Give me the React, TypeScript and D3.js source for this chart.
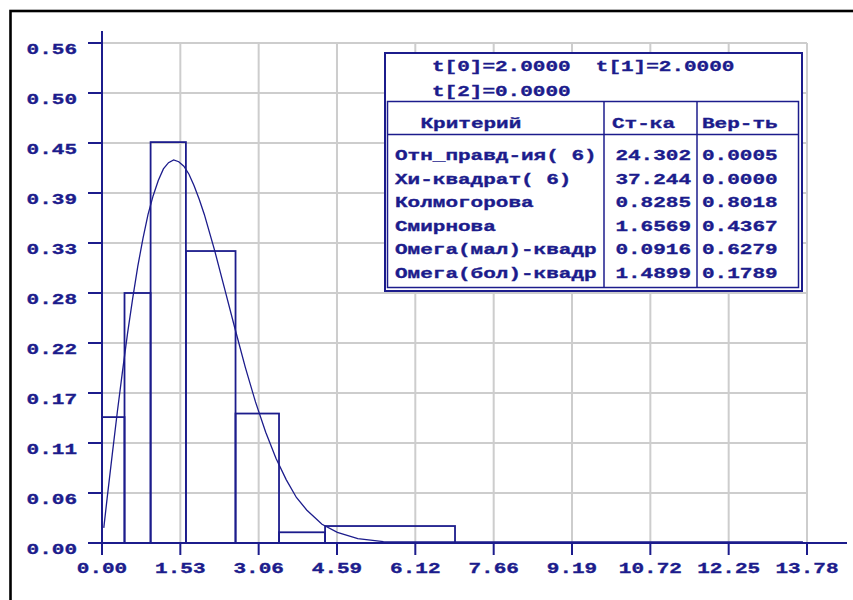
import React from "react";
import * as d3 from "d3";

// Histogram bin edges and densities
const binEdges = [0, 0.44, 0.95, 1.64, 2.61, 3.46, 4.36, 6.9];
const binDensity = [0.141, 0.28, 0.449, 0.327, 0.145, 0.012, 0.019];

// Fitted density curve points
const curveX = [
  0.035, 0.1, 0.2, 0.3, 0.4, 0.5, 0.6, 0.7, 0.8, 0.9, 1.0, 1.1, 1.2, 1.3, 1.4,
  1.5, 1.6, 1.7, 1.8, 1.9, 2.0, 2.2, 2.4, 2.6, 2.8, 3.0, 3.2, 3.4, 3.6, 3.8,
  4.0, 4.3, 4.6, 5.0, 5.5, 6.0, 13.7,
];
const curveY = [
  0.017, 0.05, 0.099, 0.147, 0.192, 0.235, 0.274, 0.31, 0.341, 0.368, 0.389,
  0.406, 0.419, 0.426, 0.429, 0.427, 0.422, 0.413, 0.4, 0.385, 0.368, 0.328,
  0.284, 0.24, 0.197, 0.158, 0.124, 0.095, 0.071, 0.051, 0.037, 0.021, 0.012,
  0.0048, 0.0015, 0.0011, 0.0011,
];

// Axis ticks
const xTickValues = [0, 1.531, 3.062, 4.593, 6.124, 7.656, 9.187, 10.718, 12.249, 13.78];
const xTickLabels = ["0.00", "1.53", "3.06", "4.59", "6.12", "7.66", "9.19", "10.72", "12.25", "13.78"];
const yTickValues = [0, 0.056, 0.112, 0.168, 0.224, 0.28, 0.336, 0.392, 0.448, 0.504, 0.56];
const yTickLabels = ["0.00", "0.06", "0.11", "0.17", "0.22", "0.28", "0.33", "0.39", "0.45", "0.50", "0.56"];

// Parameters and goodness-of-fit table
const paramLines = ["t[0]=2.0000  t[1]=2.0000", "t[2]=0.0000"];
const tableHeader = ["Критерий", "Ст-ка", "Вер-ть"];
const criteria = [
  "Отн_правд-ия( 6)",
  "Хи-квадрат( 6)",
  "Колмогорова",
  "Смирнова",
  "Омега(мал)-квадр",
  "Омега(бол)-квадр",
];
const statistics = ["24.302", "37.244", "0.8285", "1.6569", "0.0916", "1.4899"];
const probabilities = ["0.0005", "0.0000", "0.8018", "0.4367", "0.6279", "0.1789"];

const NAVY = "#1c1c8c";
const GRID = "#cdcdcd";
const CHAR_W = 12.6;

type TxtProps = { x: number; y: number; text: string; anchor?: "start" | "middle" | "end" };

// Wide bold monospace text: every character occupies CHAR_W pixels
function Mono({ x, y, text, anchor = "start" }: TxtProps) {
  const len = text.length * CHAR_W;
  const x0 = anchor === "start" ? x : anchor === "middle" ? x - len / 2 : x - len;
  return (
    <text
      x={x0}
      y={y}
      textLength={len}
      lengthAdjust="spacingAndGlyphs"
      fontFamily="'Liberation Mono', monospace"
      fontWeight="bold"
      fontSize={15}
      fill={NAVY}
      stroke={NAVY}
      strokeWidth={0.35}
      style={{ whiteSpace: "pre" }}
      xmlSpace="preserve"
    >
      {text}
    </text>
  );
}

export default function App() {
  const W = 853;
  const H = 600;
  const x = d3.scaleLinear().domain([0, 13.78]).range([102, 807]);
  const y = d3.scaleLinear().domain([0, 0.56]).range([543, 43]);

  const line = d3
    .line<number>()
    .x((_, i) => x(curveX[i]))
    .y((d) => y(d))
    .curve(d3.curveLinear);

  const x0 = x(0);
  const y0 = y(0);

  // table geometry
  const tb = { l: 385, t: 53, r: 802, b: 291 };
  const ti = { l: 387.5, t: 101.5, r: 798.5, b: 287.5 };
  const col1 = 604;
  const col2 = 697;
  const headLine = 134.5;
  const rowBase0 = 160;
  const rowStep = 23.6;

  return (
    <svg
      width={W}
      height={H}
      viewBox={`0 0 ${W} ${H}`}
      style={{ position: "absolute", left: 0, top: 0, background: "#fff" }}
    >
      <rect x={0} y={0} width={W} height={H} fill="#fff" />
      {/* frame */}
      <rect x={10.5} y={11} width={900} height={700} fill="none" stroke="#000" strokeWidth={2.6} />

      {/* grid */}
      <g stroke={GRID} strokeWidth={2}>
        {xTickValues.slice(1).map((v, i) => (
          <line key={"gx" + i} x1={x(v)} x2={x(v)} y1={y(0.56)} y2={y0} />
        ))}
        {yTickValues.slice(1).map((v, i) => (
          <line key={"gy" + i} x1={x0} x2={x(13.78)} y1={y(v)} y2={y(v)} />
        ))}
      </g>

      {/* histogram */}
      <g fill="none" stroke={NAVY} strokeWidth={1.8}>
        {binDensity.map((d, i) => (
          <rect
            key={"b" + i}
            x={x(binEdges[i])}
            y={y(d)}
            width={x(binEdges[i + 1]) - x(binEdges[i])}
            height={y0 - y(d)}
          />
        ))}
      </g>

      {/* density curve */}
      <path d={line(curveY) || ""} fill="none" stroke={NAVY} strokeWidth={1.3} />

      {/* axes */}
      <g stroke={NAVY} strokeWidth={2}>
        <line x1={x0} x2={x0} y1={31} y2={y0} />
        <line x1={x0} x2={847} y1={y0} y2={y0} />
        {yTickValues.map((v, i) => (
          <line key={"ty" + i} x1={88} x2={x0} y1={y(v)} y2={y(v)} />
        ))}
        {xTickValues.map((v, i) => (
          <line key={"tx" + i} x1={x(v)} x2={x(v)} y1={y0} y2={y0 + 12} />
        ))}
      </g>
      {yTickValues.map((v, i) => (
        <Mono key={"ly" + i} x={77} y={y(v) + 11} text={yTickLabels[i]} anchor="end" />
      ))}
      {xTickValues.map((v, i) => (
        <Mono key={"lx" + i} x={x(v)} y={y0 + 29.5} text={xTickLabels[i]} anchor="middle" />
      ))}

      {/* statistics table */}
      <rect x={tb.l} y={tb.t} width={tb.r - tb.l} height={tb.b - tb.t} fill="#fff" stroke={NAVY} strokeWidth={2} />
      <rect x={ti.l} y={ti.t} width={ti.r - ti.l} height={ti.b - ti.t} fill="none" stroke={NAVY} strokeWidth={1.5} />
      <g stroke={NAVY} strokeWidth={1.5}>
        <line x1={ti.l} x2={ti.r} y1={headLine} y2={headLine} />
        <line x1={col1} x2={col1} y1={ti.t} y2={ti.b} />
        <line x1={col2} x2={col2} y1={ti.t} y2={ti.b} />
      </g>
      <Mono x={432} y={70.5} text={paramLines[0]} />
      <Mono x={432} y={95.5} text={paramLines[1]} />
      <Mono x={420.5} y={127.5} text={tableHeader[0]} />
      <Mono x={612} y={127.5} text={tableHeader[1]} />
      <Mono x={702} y={127.5} text={tableHeader[2]} />
      {criteria.map((c, i) => (
        <g key={"r" + i}>
          <Mono x={395} y={rowBase0 + i * rowStep} text={c} />
          <Mono x={691} y={rowBase0 + i * rowStep} text={statistics[i]} anchor="end" />
          <Mono x={702} y={rowBase0 + i * rowStep} text={probabilities[i]} />
        </g>
      ))}
    </svg>
  );
}
